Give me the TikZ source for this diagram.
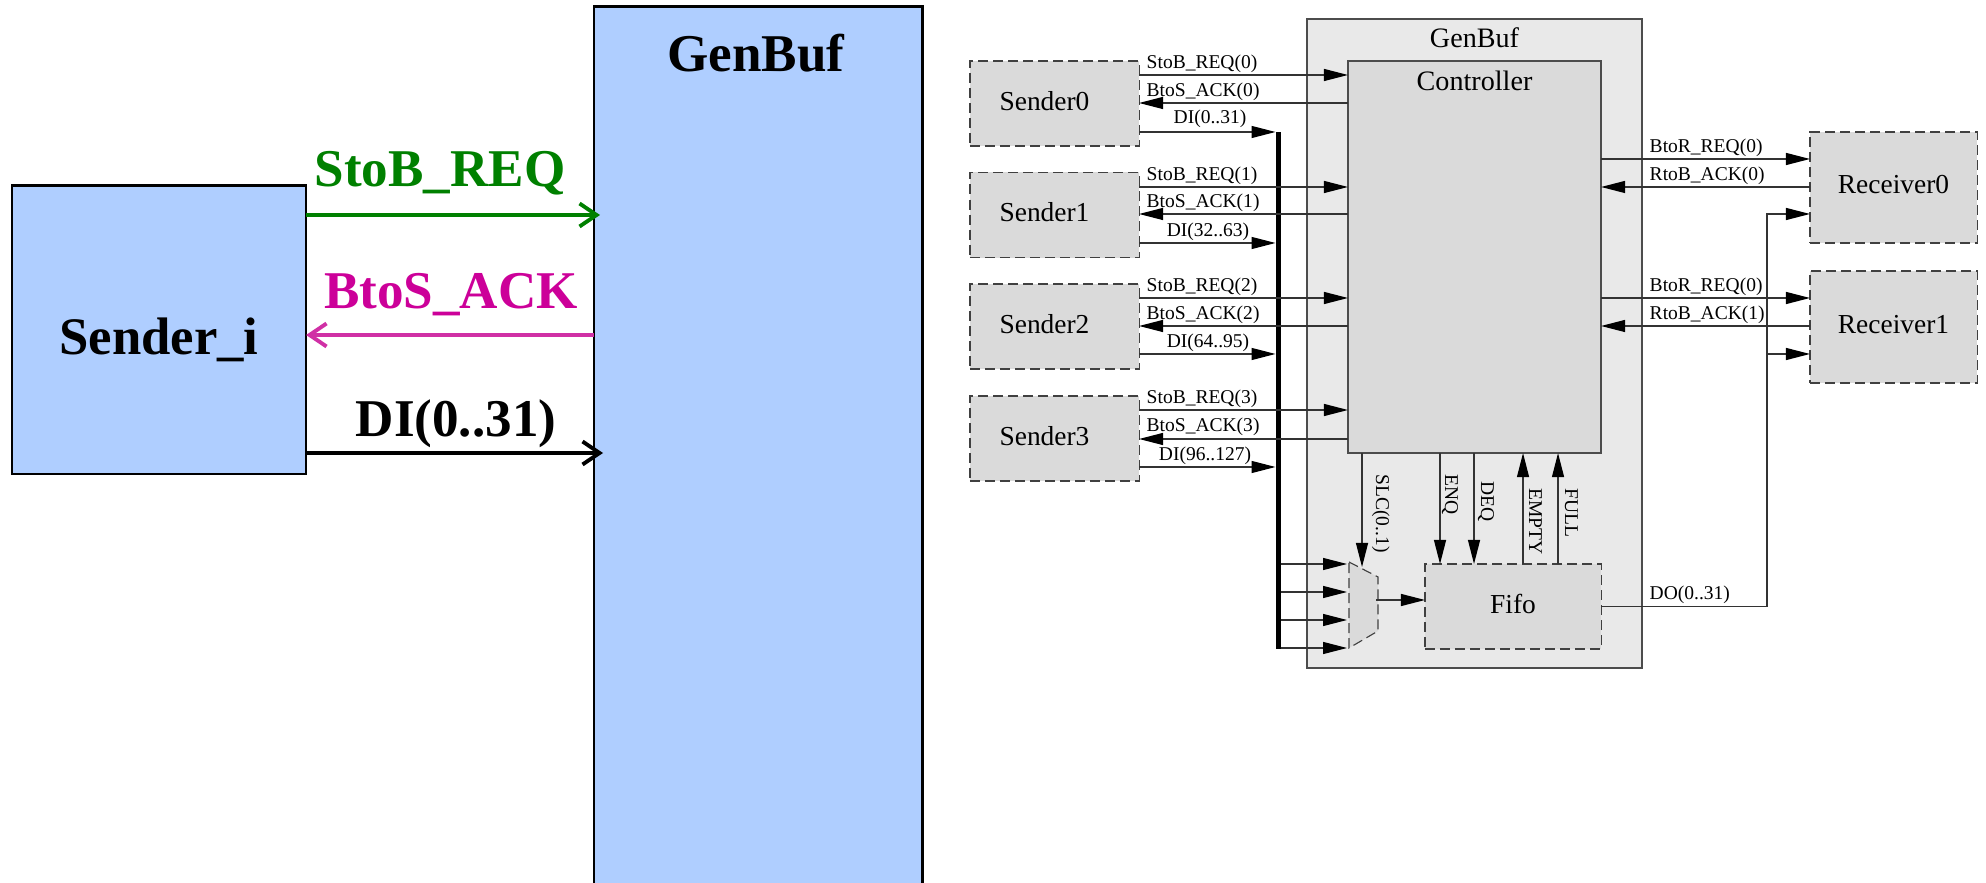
\documentclass[tikz,border=0pt]{standalone}
\usepackage{fontspec}
\setmainfont{Liberation Serif}
\usetikzlibrary{arrows.meta}

\definecolor{blockblue}{HTML}{AFCEFF}
\definecolor{reqgreen}{HTML}{008000}
\definecolor{ackpink}{HTML}{D030A5}
\definecolor{acktext}{HTML}{CC0099}
\definecolor{outergray}{HTML}{E9E9E9}
\definecolor{innergray}{HTML}{DADADA}

\tikzset{
	bigbox/.style={draw=black, line width=0.8pt, fill=blockblue, inner sep=0pt, outer sep=0pt, font=\fontsize{15}{18}\selectfont\bfseries},
	bigtext/.style={inner sep=0pt, anchor=base, font=\fontsize{15.1}{18}\selectfont\bfseries},
	bigarrow/.style={line width=1.1pt, -{Straight Barb[length=0.17cm,width=0.23cm,line width=1.1pt]}},
	dashbox/.style={draw=black!75, line width=0.32pt, fill=innergray, dash pattern=on 0.1cm off 0.05cm, inner sep=0pt, outer sep=0pt, text depth=0.06cm, font=\fontsize{7.8}{9}\selectfont},
	solidbox/.style={draw=black!70, line width=0.5pt, inner sep=0pt, outer sep=0pt},
	sig/.style={draw=black!80, line width=0.35pt, -{Triangle[length=0.24cm,width=0.12cm,fill=black,color=black]}},
	siglabel/.style={inner sep=0pt, anchor=base west, font=\fontsize{5.55}{7}\selectfont},
	dilabel/.style={inner sep=0pt, anchor=base, font=\fontsize{5.55}{7}\selectfont},
	vlabel/.style={inner sep=0pt, anchor=base west, rotate=-90, font=\fontsize{5.55}{7}\selectfont},
	boxtitle/.style={inner sep=0pt, anchor=base, font=\fontsize{8}{9}\selectfont},
}

\begin{document}
\begin{tikzpicture}[x=0.01cm, y=-0.01cm]
	\useasboundingbox (0,0) rectangle (1986,883);

	% left part
	\node[bigbox, minimum width=2.94cm, minimum height=2.88cm, text height=0.56cm] (SenderI) at (159,330) {Sender\_i};
	\node[bigbox, minimum width=3.28cm, minimum height=8.78cm] (GenBufBig) at (758,446) {};
	\node[bigtext] (GenBufBigTitle) at (756,72) {GenBuf};
	\draw[bigarrow, reqgreen] (SenderI.east |- 0,215) -- (600,215);  % request
	\draw[bigarrow, ackpink] (GenBufBig.west |- 0,335) -- (SenderI.east |- 0,335);  % ack
	\draw[bigarrow, black] (SenderI.east |- 0,453) -- (603,453);  % data
	\node[bigtext, text=reqgreen] (StoBBig) at (440,187) {StoB\_REQ};
	\node[bigtext, text=acktext] (BtoSBig) at (451,309) {BtoS\_ACK};
	\node[bigtext] (DIBig) at (456,437) {DI(0..31)};

	% right part, boxes
	\node[solidbox, fill=outergray, minimum width=3.35cm, minimum height=6.49cm] (GenBuf) at (1474.5,343.5) {};
	\node[boxtitle] (GenBufTitle) at (1474.5,48) {GenBuf};
	\node[solidbox, fill=innergray, minimum width=2.53cm, minimum height=3.92cm] (Controller) at (1474.5,257) {};
	\node[boxtitle] (ControllerTitle) at (1474.5,91) {Controller};
	\node[dashbox, minimum width=1.69cm, minimum height=0.85cm] (Sender0) at (1054.5,103.5) {Sender0\hspace*{0.2cm}};
	\node[dashbox, minimum width=1.69cm, minimum height=0.85cm] (Sender1) at (1054.5,215) {Sender1\hspace*{0.2cm}};
	\node[dashbox, minimum width=1.69cm, minimum height=0.85cm] (Sender2) at (1054.5,326.5) {Sender2\hspace*{0.2cm}};
	\node[dashbox, minimum width=1.69cm, minimum height=0.85cm] (Sender3) at (1054.5,438.5) {Sender3\hspace*{0.2cm}};
	\node[dashbox, minimum width=1.67cm, minimum height=1.11cm] (Receiver0) at (1893.5,187.5) {Receiver0};
	\node[dashbox, minimum width=1.67cm, minimum height=1.12cm] (Receiver1) at (1893.5,327) {Receiver1};
	\node[dashbox, minimum width=1.76cm, minimum height=0.85cm] (Fifo) at (1513,606.5) {Fifo};
	\node[fill=black, inner sep=0pt, outer sep=0pt, minimum width=0.05cm, minimum height=5.17cm] (Bus) at (1278,390.5) {};
	\draw[dashbox] (1349,562) -- (1378,577) -- (1378,631) -- (1349,648) -- cycle;  % mux
	\coordinate (MuxTop) at (1362,567);
	\coordinate (MuxOut) at (1376,600);
	\coordinate (DOBranch) at (1767,606.5);

	% sender 0
	\draw[sig] (Sender0.east |- 0,75) -- (Controller.west |- 0,75);
	\draw[sig] (Controller.west |- 0,103) -- (Sender0.east |- 0,103);
	\draw[sig] (Sender0.east |- 0,132) -- (Bus.west |- 0,132);
	\node[siglabel] (StoB0) at (1146,69) {StoB\_REQ(0)};
	\node[siglabel] (BtoS0) at (1146,97) {BtoS\_ACK(0)};
	\node[dilabel] (DI0) at (1210,124) {DI(0..31)};

	% sender 1
	\draw[sig] (Sender1.east |- 0,187) -- (Controller.west |- 0,187);
	\draw[sig] (Controller.west |- 0,214) -- (Sender1.east |- 0,214);
	\draw[sig] (Sender1.east |- 0,243) -- (Bus.west |- 0,243);
	\node[siglabel] (StoB1) at (1146,181) {StoB\_REQ(1)};
	\node[siglabel] (BtoS1) at (1146,208) {BtoS\_ACK(1)};
	\node[dilabel] (DI1) at (1208,237) {DI(32..63)};

	% sender 2
	\draw[sig] (Sender2.east |- 0,298) -- (Controller.west |- 0,298);
	\draw[sig] (Controller.west |- 0,326) -- (Sender2.east |- 0,326);
	\draw[sig] (Sender2.east |- 0,354) -- (Bus.west |- 0,354);
	\node[siglabel] (StoB2) at (1146,292) {StoB\_REQ(2)};
	\node[siglabel] (BtoS2) at (1146,320) {BtoS\_ACK(2)};
	\node[dilabel] (DI2) at (1208,348) {DI(64..95)};

	% sender 3
	\draw[sig] (Sender3.east |- 0,410) -- (Controller.west |- 0,410);
	\draw[sig] (Controller.west |- 0,439) -- (Sender3.east |- 0,439);
	\draw[sig] (Sender3.east |- 0,467) -- (Bus.west |- 0,467);
	\node[siglabel] (StoB3) at (1146,404) {StoB\_REQ(3)};
	\node[siglabel] (BtoS3) at (1146,432) {BtoS\_ACK(3)};
	\node[dilabel] (DI3) at (1205,461) {DI(96..127)};

	% receivers
	\draw[sig] (Controller.east |- 0,159) -- (Receiver0.west |- 0,159);
	\draw[sig] (Receiver0.west |- 0,187) -- (Controller.east |- 0,187);
	\draw[sig] (Controller.east |- 0,298) -- (Receiver1.west |- 0,298);
	\draw[sig] (Receiver1.west |- 0,326) -- (Controller.east |- 0,326);
	\node[siglabel] (BtoR0) at (1649,153) {BtoR\_REQ(0)};
	\node[siglabel] (RtoB0) at (1649,181) {RtoB\_ACK(0)};
	\node[siglabel] (BtoR1) at (1649,292) {BtoR\_REQ(0)};
	\node[siglabel] (RtoB1) at (1649,320) {RtoB\_ACK(1)};

	% mux and fifo
	\draw[sig] (Bus.east |- 0,564) -- (1347,564);
	\draw[sig] (Bus.east |- 0,592) -- (1347,592);
	\draw[sig] (Bus.east |- 0,620) -- (1347,620);
	\draw[sig] (Bus.east |- 0,648) -- (1347,648);
	\draw[sig] (MuxOut) -- (Fifo.west |- MuxOut);
	\draw[sig] (Controller.south -| MuxTop) -- (MuxTop);
	\draw[sig] (Controller.south -| 1440,0) -- (Fifo.north -| 1440,0);
	\draw[sig] (Controller.south -| 1474,0) -- (Fifo.north -| 1474,0);
	\draw[sig] (Fifo.north -| 1523,0) -- (Controller.south -| 1523,0);
	\draw[sig] (Fifo.north -| 1558,0) -- (Controller.south -| 1558,0);
	\node[vlabel] (SLC) at (1376,474) {SLC(0..1)};
	\node[vlabel] (ENQ) at (1445,474) {ENQ};
	\node[vlabel] (DEQ) at (1481,481) {DEQ};
	\node[vlabel] (EMPTY) at (1529,488) {EMPTY};
	\node[vlabel] (FULL) at (1565,488) {FULL};

	% data out
	\draw[sig] (Fifo.east) -- (DOBranch) |- (Receiver0.west |- 0,214);
	\draw[sig] (DOBranch |- 0,354) -- (Receiver1.west |- 0,354);
	\node[siglabel] (DO) at (1649,600) {DO(0..31)};
\end{tikzpicture}
\end{document}
